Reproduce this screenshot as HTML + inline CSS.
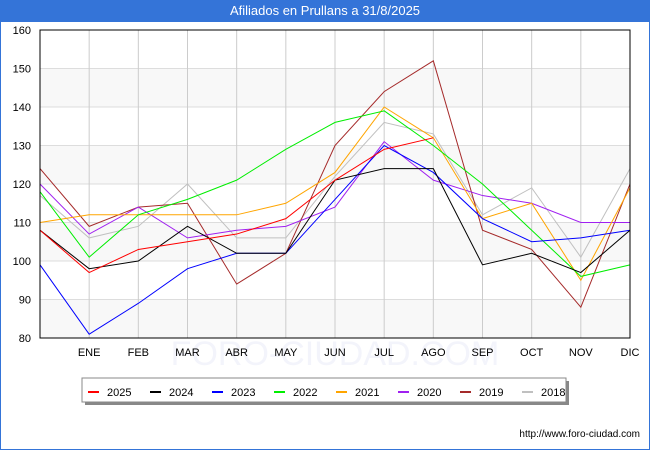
<!DOCTYPE html>
<html><head><meta charset="utf-8"><style>
body{margin:0;width:650px;height:450px;overflow:hidden;background:#fff;font-family:"Liberation Sans","DejaVu Sans",sans-serif}
#frame{position:absolute;left:0;top:0;width:648px;height:448px;border:1px solid #3474d8}
#title{position:absolute;left:0;top:0;width:650px;height:22px;background:#3474d8;color:#fff;font-size:13px;line-height:22px;text-align:center}
svg{position:absolute;left:0;top:0}
</style></head><body>
<div id="frame"></div>
<div id="title">Afiliados en Prullans a 31/8/2025</div>
<svg id="chart" width="650" height="450"></svg>
<script>
const categories=["","ENE","FEB","MAR","ABR","MAY","JUN","JUL","AGO","SEP","OCT","NOV","DIC"];
const yTicks=[80,90,100,110,120,130,140,150,160];
const seriesNames=["2025","2024","2023","2022","2021","2020","2019","2018"];
const seriesColors=["#ff0000","#000000","#0000ff","#00ee00","#ffa500","#a020f0","#a52a2a","#c0c0c0"];
const s2025=[108,97,103,105,107,111,121,129,132];
const s2024=[108,98,100,109,102,102,121,124,124,99,102,97,108];
const s2023=[99,81,89,98,102,102,116,130,123,111,105,106,108];
const s2022=[118,101,112,116,121,129,136,139,130,120,108,96,99];
const s2021=[110,112,112,112,112,115,123,140,132,111,115,95,119];
const s2020=[120,107,114,106,108,109,114,131,121,117,115,110,110];
const s2019=[124,109,114,115,94,102,130,144,152,108,103,88,120];
const s2018=[117,106,109,120,106,106,122,136,133,112,119,101,124];
const allSeries=[s2025,s2024,s2023,s2022,s2021,s2020,s2019,s2018];

const NS="http://www.w3.org/2000/svg";
const svg=document.getElementById('chart');
const L=40,R=630,T=30,B=338,yMin=80,yMax=160;
const x=i=>L+(R-L)*i/(categories.length-1);
const y=v=>B-(v-yMin)/(yMax-yMin)*(B-T);
function mk(tag,attrs){const e=document.createElementNS(NS,tag);for(const k in attrs)e.setAttribute(k,attrs[k]);svg.appendChild(e);return e;}

for(let i=0;i<yTicks.length-1;i++){
  if(i%2===0){const b=mk('rect',{x:L,y:y(yTicks[i+1]),width:R-L,height:y(yTicks[i])-y(yTicks[i+1]),fill:'#f8f8f8'});
  
  }
}
yTicks.forEach(v=>{
  const g=mk('line',{x1:L,x2:R,y1:y(v),y2:y(v),stroke:'#dddddd','stroke-width':1});
  
  
  const t=mk('text',{x:L-9,y:y(v)+4,'text-anchor':'end','font-size':11,fill:'#000'});
  t.textContent=v;
  
  
});
const wm=mk('text',{x:335,y:365,'text-anchor':'middle','font-size':34,fill:'#f3f4fb'});
wm.textContent='FORO-CIUDAD.COM';


categories.forEach((c,i)=>{
  if(i>0&&i<categories.length-1){const g=mk('line',{x1:x(i),x2:x(i),y1:T,y2:B,stroke:'#cccccc','stroke-width':1});
  
  }
  const t=mk('text',{x:x(i),y:B+18,'text-anchor':'middle','font-size':11,fill:'#000'});
  t.textContent=c;
  
  
});
for(let s=allSeries.length-1;s>=0;s--){
  const pts=allSeries[s].map((v,i)=>x(i)+','+y(v)).join(' ');
  const p=mk('polyline',{points:pts,fill:'none',stroke:seriesColors[s],'stroke-width':1});
  
  
}
const ax=mk('rect',{x:L,y:T,width:R-L,height:B-T,fill:'none',stroke:'#000','stroke-width':1});



const sh=mk('rect',{x:85,y:381,width:484,height:24,fill:'#888'});


const lg=mk('rect',{x:82,y:378,width:484,height:24,fill:'#fff',stroke:'#888','stroke-width':1});


seriesNames.forEach((n,i)=>{
  const lx=88+i*62;
  const sw=mk('line',{x1:lx,x2:lx+11,y1:392,y2:392,stroke:seriesColors[i],'stroke-width':2});
  
  
  const t=mk('text',{x:lx+19,y:396,'font-size':11,fill:'#000'});
  t.textContent=n;
  
  
});
const url=mk('text',{x:640,y:437,'text-anchor':'end','font-size':10,fill:'#000'});
url.textContent='http://www.foro-ciudad.com';


</script>
</body></html>
